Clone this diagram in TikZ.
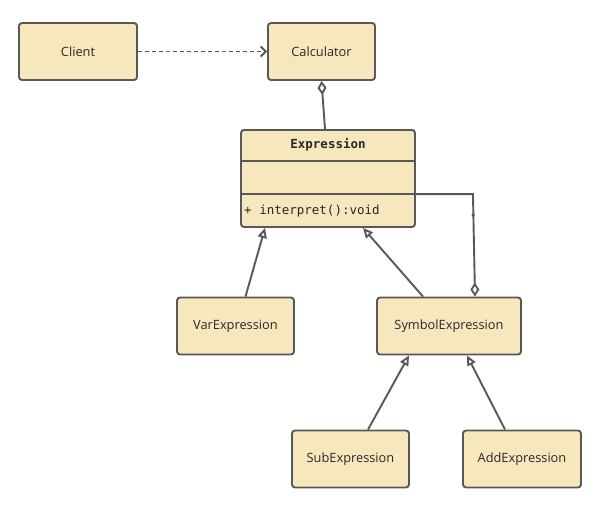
\documentclass[tikz,border=0pt]{standalone}
\usepackage{fontspec}
\setmainfont{Open Sans}
\newfontfamily\codefont{DejaVu Sans Mono}
\usetikzlibrary{arrows.meta,calc,positioning}
\definecolor{ClassFill}{RGB}{246,231,188}
\definecolor{LineGray}{RGB}{88,88,88}
\definecolor{TextDark}{RGB}{40,40,40}

\begin{document}
\begin{tikzpicture}[x=1pt,y=-1pt,
    cls/.style={draw=LineGray,line width=1.9pt,fill=ClassFill,rounded corners=3pt,
      minimum height=57pt,inner sep=0pt,text=TextDark,font=\fontsize{12.8}{15}\selectfont},
    link/.style={LineGray,line width=1.9pt},
    inherit/.style={link,-{Triangle[open,length=10pt,width=9pt]}},
    aggr/.style={link,-{Diamond[open,length=14pt,width=9pt]}},
    depend/.style={link,dash pattern=on 4pt off 3pt,-{Straight Barb[length=5pt,width=10pt]}},
    code/.style={inner sep=0pt,text=TextDark,font=\codefont\fontsize{12.5}{14}\selectfont}]
  \useasboundingbox (0,0) rectangle (607,505);
  % classes
  \node[cls,minimum width=118pt] (client) at (78,51.5) {Client};
  \node[cls,minimum width=107pt] (calc) at (321.5,51.5) {Calculator};
  \node[cls,minimum width=174pt,minimum height=97pt] (expr) at (328,178.5) {};
  \node[cls,minimum width=117pt] (var) at (235.5,326) {VarExpression};
  \node[cls,minimum width=144pt] (sym) at (449,326) {SymbolExpression};
  \node[cls,minimum width=117pt] (sub) at (350.5,459) {SubExpression};
  \node[cls,minimum width=118pt] (add) at (522,459) {AddExpression};
  % compartments of Expression
  \draw[link] ($(expr.north west)+(0,32)$) -- ($(expr.north east)+(0,32)$);
  \draw[link] ($(expr.north west)+(0,65)$) -- ($(expr.north east)+(0,65)$);
  \node[code,font=\codefont\bfseries\fontsize{12.5}{14}\selectfont] (exprname) at (328,145) {Expression};
  \node[code,anchor=west] (exprop) at (244,211) {+ interpret():void};
  % relations
  \draw[depend] (client) -- (calc);
  \draw[aggr] ($(expr.north)+(-3,0)$) -- (calc.south);
  \draw[inherit] ($(var.north)+(10,0)$) -- ($(expr.south)+(-63,0)$);
  \draw[inherit] ($(sym.north)+(-26,0)$) -- ($(expr.south)+(35,0)$);
  \draw[inherit] ($(sub.north)+(17.5,0)$) -- ($(sym.south)+(-40,0)$);
  \draw[inherit] ($(add.north)+(-17,0)$) -- ($(sym.south)+(18,0)$);
  \coordinate (exprsplit) at ($(expr.north east)+(0,65)$);
  \coordinate (bend) at ($(exprsplit)+(57,0)$);
  \draw[aggr] (exprsplit) -- (bend) -- ($(sym.north)+(26,0)$);
  \fill[LineGray] ($(bend)+(0.2,21)$) circle (1.8pt);
\end{tikzpicture}
\end{document}
